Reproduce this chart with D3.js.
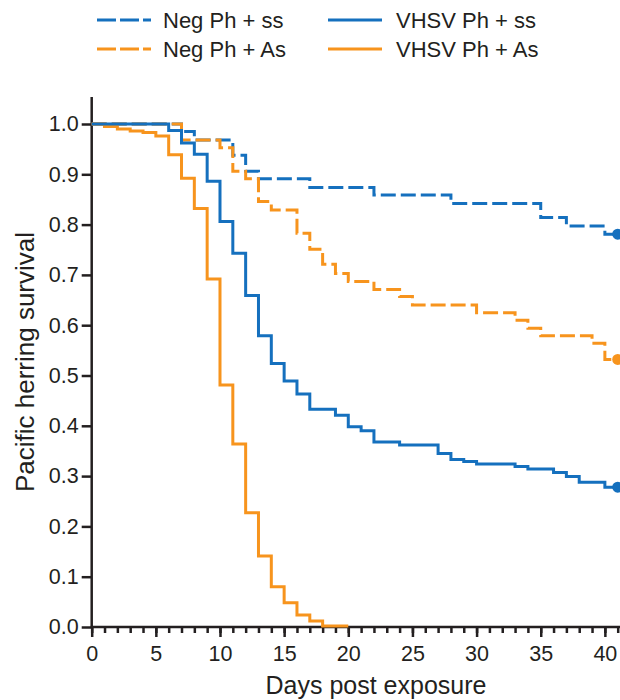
<!DOCTYPE html>
<html lang="en">
<head>
<meta charset="UTF-8">
<script src="https://cdnjs.cloudflare.com/ajax/libs/d3/7.8.5/d3.min.js"></script>
<title>Pacific herring survival</title>
<style>
  html, body { margin: 0; padding: 0; background: #fff; }
  svg { font-family: "Liberation Sans", Arial, Helvetica, sans-serif; }
  .axis text { font-size: 21.5px; fill: #231f20; }
  .axis line, .axis path { stroke: #231f20; stroke-width: 2.5; }
</style>
</head>
<body>
<div id="chart"></div>
<script>
// survival curves, day of step -> survival after the step
var negSsDays   = [0, 7, 8, 11, 12, 13, 17, 22, 28, 35, 37, 40, 41];
var negSsSurv   = [1.0, 0.985, 0.968, 0.938, 0.906, 0.891, 0.874, 0.859, 0.842, 0.814, 0.797, 0.781, 0.781];

var negAsDays   = [0, 7, 10, 11, 12, 13, 14, 16, 17, 18, 19, 20, 22, 24, 25, 30, 33, 34, 35, 39, 40, 41];
var negAsSurv   = [1.0, 0.968, 0.953, 0.906, 0.891, 0.846, 0.829, 0.783, 0.751, 0.721, 0.703, 0.687, 0.671, 0.657, 0.640, 0.625, 0.610, 0.594, 0.579, 0.564, 0.532, 0.532];

var vhsvSsDays  = [0, 6, 7, 8, 9, 10, 11, 12, 13, 14, 15, 16, 17, 19, 20, 21, 22, 24, 27, 28, 29, 30, 33, 34, 36, 37, 38, 40, 41];
var vhsvSsSurv  = [1.0, 0.987, 0.962, 0.940, 0.886, 0.806, 0.743, 0.659, 0.579, 0.524, 0.489, 0.463, 0.433, 0.421, 0.398, 0.390, 0.368, 0.362, 0.345, 0.333, 0.329, 0.324, 0.319, 0.314, 0.307, 0.299, 0.288, 0.278, 0.278];

var vhsvAsDays  = [0, 1, 2, 3, 4, 5, 6, 7, 8, 9, 10, 11, 12, 13, 14, 15, 16, 17, 18, 20];
var vhsvAsSurv  = [1.0, 0.995, 0.990, 0.986, 0.983, 0.976, 0.939, 0.892, 0.832, 0.692, 0.481, 0.364, 0.227, 0.141, 0.080, 0.048, 0.024, 0.012, 0.002, 0.002];

var xTicks = [0, 5, 10, 15, 20, 25, 30, 35, 40];
var yTicks = [0, 0.1, 0.2, 0.3, 0.4, 0.5, 0.6, 0.7, 0.8, 0.9, 1.0];

var blue = "#1570be", orange = "#f7941d";

var series = [
  {name: "Neg Ph + ss",   days: negSsDays,  surv: negSsSurv,  color: blue,   dash: "15,5", dot: true},
  {name: "Neg Ph + As",   days: negAsDays,  surv: negAsSurv,  color: orange, dash: "15,5", dot: true},
  {name: "VHSV Ph + As",  days: vhsvAsDays, surv: vhsvAsSurv, color: orange, dash: null,   dot: false},
  {name: "VHSV Ph + ss",  days: vhsvSsDays, surv: vhsvSsSurv, color: blue,   dash: null,   dot: true}
];

var W = 620, H = 700;
var svg = d3.select("#chart").append("svg").attr("width", W).attr("height", H);

var x = d3.scaleLinear().domain([0, 41]).range([91.7, 617.7]);
var y = d3.scaleLinear().domain([0, 1]).range([627, 124]);

// y axis
var yAxis = svg.append("g").attr("class", "axis")
  .attr("transform", "translate(" + x(0) + ",0)")
  .call(d3.axisLeft(y).tickValues(yTicks).tickFormat(d3.format(".1f")).tickSize(10).tickPadding(3).tickSizeOuter(0));
yAxis.select(".domain").remove();
svg.append("line").attr("x1", x(0)).attr("x2", x(0)).attr("y1", 97).attr("y2", 628)
  .attr("stroke", "#231f20").attr("stroke-width", 2.5);

// x axis: minor ticks every day, major every 5
var xMinor = svg.append("g").attr("class", "axis")
  .attr("transform", "translate(0," + y(0) + ")")
  .call(d3.axisBottom(x).tickValues(d3.range(0, 42)).tickSize(6).tickFormat(""));
xMinor.select(".domain").remove();
var xMajor = svg.append("g").attr("class", "axis")
  .attr("transform", "translate(0," + y(0) + ")")
  .call(d3.axisBottom(x).tickValues(xTicks).tickSize(10).tickPadding(9));
xMajor.select(".domain").remove();
svg.append("line").attr("x1", x(0) - 1).attr("x2", W).attr("y1", y(0)).attr("y2", y(0))
  .attr("stroke", "#231f20").attr("stroke-width", 2.5);

// curves
var line = d3.line()
  .x(function(d) { return x(d[0]); })
  .y(function(d) { return y(d[1]); })
  .curve(d3.curveStepAfter);

series.forEach(function(s) {
  var pts = s.days.map(function(d, i) { return [d, s.surv[i]]; });
  svg.append("path")
    .datum(pts)
    .attr("d", line)
    .attr("fill", "none")
    .attr("stroke", s.color)
    .attr("stroke-width", 3)
    .attr("stroke-dasharray", s.dash);
  if (s.dot) {
    var last = pts[pts.length - 1];
    svg.append("circle")
      .attr("cx", x(last[0])).attr("cy", y(last[1])).attr("r", 5.5)
      .attr("fill", s.color);
  }
});

// axis titles
svg.append("text")
  .attr("x", 376).attr("y", 694)
  .attr("text-anchor", "middle")
  .style("font-size", "25px").style("fill", "#231f20")
  .text("Days post exposure");

svg.append("text")
  .attr("transform", "translate(34,362) rotate(-90)")
  .attr("text-anchor", "middle")
  .style("font-size", "26px").style("fill", "#231f20")
  .text("Pacific herring survival");

// legend
var legend = [
  {s: series[0], lx: 97,  ty: 28},
  {s: series[1], lx: 97,  ty: 57},
  {s: series[3], lx: 328, ty: 28},
  {s: series[2], lx: 328, ty: 57}
];
legend.forEach(function(l) {
  var g = svg.append("g");
  g.append("line")
    .attr("x1", l.lx).attr("x2", l.lx + 54)
    .attr("y1", l.ty - 8).attr("y2", l.ty - 8)
    .attr("stroke", l.s.color).attr("stroke-width", 3)
    .attr("stroke-dasharray", l.s.dash ? "19,4" : null);
  g.append("text")
    .attr("x", l.lx + (l.s.dash ? 66 : 68)).attr("y", l.ty)
    .style("font-size", "22px").style("fill", "#231f20")
    .text(l.s.name);
});
</script>
</body>
</html>
